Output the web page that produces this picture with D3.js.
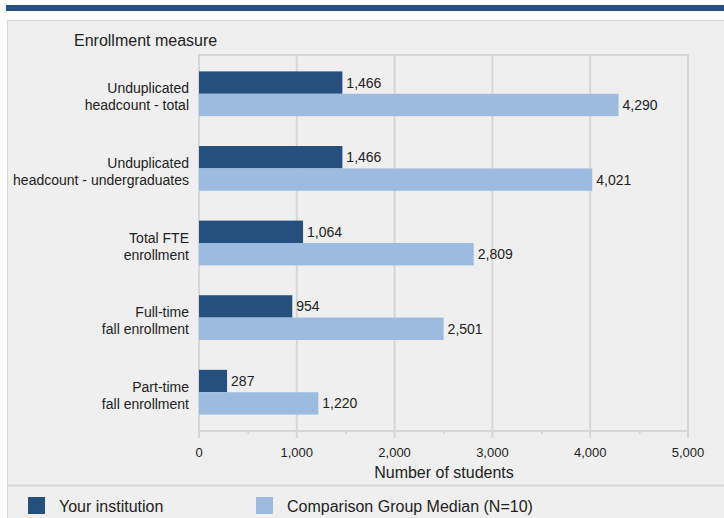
<!DOCTYPE html>
<html><head><meta charset="utf-8">
<script src="https://cdn.jsdelivr.net/npm/d3@7"></script>
<style>html,body{margin:0;padding:0;background:#fff;}svg{display:block;font-family:"Liberation Sans",Arial,sans-serif;}</style>
</head><body><svg id="c" width="724" height="518"></svg>
<script>
const categories = [
  ["Unduplicated","headcount - total"],
  ["Unduplicated","headcount - undergraduates"],
  ["Total FTE","enrollment"],
  ["Full-time","fall enrollment"],
  ["Part-time","fall enrollment"]
];
const yourInstitution = [1466, 1466, 1064, 954, 287];
const comparisonMedian = [4290, 4021, 2809, 2501, 1220];
const seriesNames = ["Your institution", "Comparison Group Median (N=10)"];
const xTicks = [0, 1000, 2000, 3000, 4000, 5000];

const colors = ["#254f7c", "#9cbbdf"];
const svg = d3.select("#c");
const fmt = d3.format(",");

// header band and panel
svg.append("rect").attr("x",6).attr("y",5).attr("width",718).attr("height",6).attr("fill","#26507e");
svg.append("rect").attr("x",7.5).attr("y",20.5).attr("width",720).attr("height",500).attr("fill","#efefef").attr("stroke","#d6d6d6").attr("stroke-width",1);
svg.append("line").attr("x1",8).attr("x2",724).attr("y1",485.5).attr("y2",485.5).attr("stroke","#d6d6d6").attr("stroke-width",2);

const x = d3.scaleLinear().domain([0,5000]).range([199,688]);
const y = d3.scaleBand().domain(d3.range(categories.length)).range([55,431]).paddingInner(0.4).paddingOuter(0.22);
const bw = y.bandwidth()/2;

// grid
const g = svg.append("g");
g.selectAll("line.grid").data(xTicks).enter().append("line")
  .attr("x1",d=>x(d)).attr("x2",d=>x(d)).attr("y1",55).attr("y2",438)
  .attr("stroke","#d6d6d6").attr("stroke-width",2);
g.append("line").attr("x1",x(0)-1).attr("x2",x(5000)+1).attr("y1",55).attr("y2",55).attr("stroke","#d6d6d6").attr("stroke-width",2);
// axis
const axis = d3.axisBottom(x).tickValues(d3.range(500,5000,1000)).tickSize(3).tickFormat("");
const ag = svg.append("g").attr("transform","translate(0,431)").call(axis);
ag.select(".domain").attr("stroke","#d6d6d6").attr("stroke-width",2).attr("d",`M${x(0)},0H${x(5000)}`);
ag.selectAll(".tick line").attr("stroke","#d6d6d6").attr("stroke-width",2);
svg.append("g").selectAll("text").data(xTicks).enter().append("text")
  .attr("x",d=>x(d)).attr("y",457).attr("text-anchor","middle")
  .attr("font-size",13).attr("fill","#222").text(d=>fmt(d));
svg.append("text").attr("x",444).attr("y",478).attr("text-anchor","middle").attr("font-size",16).attr("fill","#222").text("Number of students");
svg.append("text").attr("x",74).attr("y",46).attr("font-size",16).attr("fill","#222").text("Enrollment measure");

// bars
const series = [yourInstitution, comparisonMedian];
series.forEach((vals,si)=>{
  const sg = svg.append("g");
  sg.selectAll("rect").data(vals).enter().append("rect")
    .attr("x",x(0)).attr("y",(d,i)=>y(i)+si*bw).attr("width",d=>x(d)-x(0)).attr("height",bw)
    .attr("fill",colors[si]);
  sg.selectAll("text").data(vals).enter().append("text")
    .attr("x",d=>x(d)+4).attr("y",(d,i)=>y(i)+si*bw+bw/2+5)
    .attr("font-size",14).attr("fill","#222").text(d=>fmt(d));
});

// category labels
categories.forEach((lines,i)=>{
  const cy = y(i)+y.bandwidth()/2;
  svg.append("text").attr("x",189).attr("y",cy-0.5).attr("text-anchor","end").attr("font-size",14).attr("fill","#222").text(lines[0]);
  svg.append("text").attr("x",189).attr("y",cy+16.5).attr("text-anchor","end").attr("font-size",14).attr("fill","#222").text(lines[1]);
});

// legend
const lx = [28, 256];
seriesNames.forEach((n,i)=>{
  svg.append("rect").attr("x",lx[i]).attr("y",497).attr("width",17).attr("height",17).attr("fill",colors[i]);
  svg.append("text").attr("x",lx[i]+31).attr("y",512).attr("font-size",16).attr("fill","#222").text(n);
});
</script></body></html>
